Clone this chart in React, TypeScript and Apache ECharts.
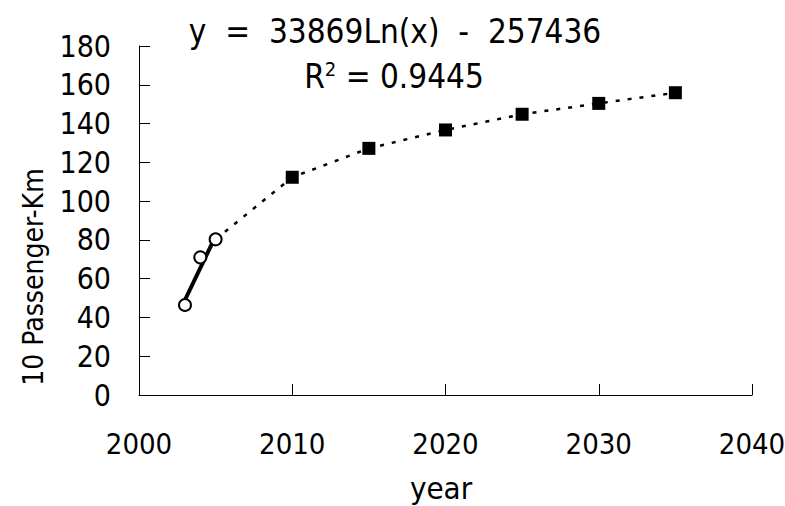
import React, { useEffect, useRef } from "react";
import * as echarts from "echarts";

const obsYears = [2003, 2004, 2005];
const obsValues = [46.4, 71, 80.3];
const trendYears = [2003, 2005];
const trendValues = [49, 82];
const fcYears = [2010, 2015, 2020, 2025, 2030, 2035];
const fcValues = [112.3, 127.2, 136.7, 144.8, 150.4, 155.9];
const xTicks = [2000, 2010, 2020, 2030, 2040];
const yTicks = [0, 20, 40, 60, 80, 100, 120, 140, 160, 180];
const equationText = "y  =  33869Ln(x)  -  257436";
const r2Label = "0.9445";
const xName = "year";
const yName = "10 Passenger-Km";

const FONT = "'Liberation Sans Narrow', 'DejaVu Sans Condensed', 'Liberation Sans', sans-serif";

export default function App() {
  const ref = useRef<HTMLDivElement>(null);
  useEffect(() => {
    if (!ref.current) return;
    const chart = echarts.init(ref.current, undefined, { renderer: "svg" });
    const obs = obsYears.map((y, i) => [y, obsValues[i]]);
    const trend = trendYears.map((y, i) => [y, trendValues[i]]);
    const fc = fcYears.map((y, i) => [y, fcValues[i]]);
    const dotted = [[obsYears[obsYears.length - 1], obsValues[obsValues.length - 1]], ...fc];
    chart.setOption({
      animation: false,
      backgroundColor: "#fff",
      textStyle: { fontFamily: FONT },
      grid: { left: 139, right: 33, top: 46, bottom: 111, outerBoundsMode: "none", containLabel: false },
      xAxis: {
        type: "value",
        min: xTicks[0],
        max: xTicks[xTicks.length - 1],
        interval: 10,
        splitLine: { show: false },
        axisLine: { lineStyle: { color: "#000", width: 1 } },
        axisTick: { inside: true, length: 11, lineStyle: { color: "#000" } },
        axisLabel: {
          color: "#000",
          fontSize: 29,
          fontFamily: FONT,
          margin: 34,
          formatter: (v: number) => String(v),
        },
      },
      yAxis: {
        type: "value",
        min: yTicks[0],
        max: yTicks[yTicks.length - 1],
        interval: 20,
        splitLine: { show: false },
        axisLine: { show: true, lineStyle: { color: "#000", width: 1 } },
        axisTick: { show: true, inside: true, length: 11, lineStyle: { color: "#000" } },
        axisLabel: { color: "#000", fontSize: 30, fontFamily: FONT, margin: 28 },
      },
      series: [
        {
          type: "line",
          data: dotted,
          showSymbol: false,
          symbol: "none",
          lineStyle: { color: "#000", width: 2.5, type: [4, 8] },
          z: 1,
        },
        {
          type: "line",
          data: trend,
          showSymbol: false,
          symbol: "none",
          lineStyle: { color: "#000", width: 4 },
          z: 2,
        },
        {
          type: "scatter",
          data: obs,
          symbol: "circle",
          symbolSize: 12,
          itemStyle: { color: "#fff", borderColor: "#000", borderWidth: 2, opacity: 1 },
          z: 3,
        },
        {
          type: "scatter",
          data: fc,
          symbol: "rect",
          symbolSize: 13,
          itemStyle: { color: "#000", opacity: 1 },
          z: 3,
        },
      ],
      graphic: [
        {
          type: "text",
          x: 395,
          y: 31,
          style: {
            text: equationText,
            fontSize: 33,
            fontFamily: FONT,
            fill: "#000",
            align: "center",
            verticalAlign: "middle",
          },
        },
        {
          type: "text",
          x: 394,
          y: 76,
          style: {
            text: "R{sup|2} = " + r2Label,
            fontSize: 33,
            fontFamily: FONT,
            fill: "#000",
            align: "center",
            verticalAlign: "middle",
            rich: {
              sup: { fontSize: 20, fontFamily: FONT, fill: "#000", verticalAlign: "top", padding: [0, 0, 14, 0] },
            },
          },
        },
        {
          type: "text",
          x: 441,
          y: 488,
          style: {
            text: xName,
            fontSize: 31,
            fontFamily: FONT,
            fill: "#000",
            align: "center",
            verticalAlign: "middle",
          },
        },
        {
          type: "text",
          x: 33,
          y: 277,
          rotation: Math.PI / 2,
          style: {
            text: yName,
            fontSize: 28,
            fontFamily: FONT,
            fill: "#000",
            align: "center",
            verticalAlign: "middle",
          },
        },
      ],
    });
    return () => chart.dispose();
  }, []);
  return (
    <div
      ref={ref}
      style={{ position: "fixed", left: 0, top: 0, width: 785, height: 506, background: "#fff" }}
    />
  );
}
